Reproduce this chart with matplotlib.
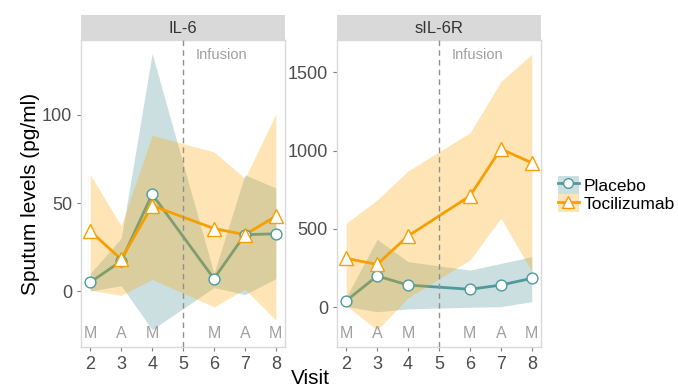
"""Sputum IL-6 / sIL-6R levels by visit, placebo vs tocilizumab."""

import matplotlib

matplotlib.use("Agg")
import matplotlib.pyplot as plt
from matplotlib.lines import Line2D
from matplotlib.patches import Patch

plt.rcParams["font.family"] = ["Liberation Sans", "DejaVu Sans"]

visits = [2, 3, 4, 6, 7, 8]
visit_ticks = [2, 3, 4, 5, 6, 7, 8]
time_labels = ["M", "A", "M", "M", "A", "M"]
panels = ["IL-6", "sIL-6R"]

# IL-6
il6_placebo = [5, 17, 55, 7, 32, 32.5]
il6_placebo_lo = [0, 3, -22, 2, -2, 7]
il6_placebo_hi = [10, 30, 135, 10, 66, 58.5]
il6_toci = [34, 18, 48.5, 35.5, 32, 42.5]
il6_toci_lo = [0.5, -2.5, 6.6, -9, 1, -16.5]
il6_toci_hi = [66, 37, 88.5, 79, 64, 100.5]

# sIL-6R
sr_placebo = [42, 200, 142, 115, 142, 185]
sr_placebo_lo = [5, -28, -10, 0, 4, 36]
sr_placebo_hi = [65, 434, 291, 238, 280, 323]
sr_toci = [312, 274, 455, 710, 1010, 922]
sr_toci_lo = [10, -145, 60, 302, 568, 230]
sr_toci_hi = [536, 685, 870, 1113, 1439, 1615]

PLACEBO = "#4e9a9b"
PLACEBO_FILL = "#5f9ea0"
PLACEBO_ALPHA = 0.32
TOCI = "#f5a000"
TOCI_FILL = "#ffa500"
TOCI_ALPHA = 0.29
FRAME = "#d9d9d9"
GREY_TEXT = "#a0a0a0"
TICK_TEXT = "#4d4d4d"

series = [
    (il6_placebo, il6_placebo_lo, il6_placebo_hi, il6_toci, il6_toci_lo, il6_toci_hi,
     (-31.8, 142.6), [0, 50, 100], -24, 134),
    (sr_placebo, sr_placebo_lo, sr_placebo_hi, sr_toci, sr_toci_lo, sr_toci_hi,
     (-253, 1705), [0, 500, 1000, 1500], -164, 1609),
]

fig = plt.figure(figsize=(6.78, 3.88), dpi=100)
lefts = [0.1195, 0.497]
width = 0.301
bottom, top = 0.1057, 0.8969
strip_top = 0.9613

for left, name, (p, plo, phi, t, tlo, thi, ylim, yticks, lab_y, inf_y) in zip(lefts, panels, series):
    ax = fig.add_axes([left, bottom, width, top - bottom])
    ax.fill_between(visits, plo, phi, color=PLACEBO_FILL, alpha=PLACEBO_ALPHA, linewidth=0, zorder=1)
    ax.plot(visits, p, color=PLACEBO, linewidth=2, zorder=2)
    ax.fill_between(visits, tlo, thi, color=TOCI_FILL, alpha=TOCI_ALPHA, linewidth=0, zorder=3)
    ax.plot(visits, t, color=TOCI, linewidth=2, zorder=4)
    ax.plot(visits, p, linestyle="none", marker="o", markersize=7.8, markerfacecolor="white",
            markeredgecolor=PLACEBO, markeredgewidth=1, zorder=5)
    ax.plot(visits, t, linestyle="none", marker="^", markersize=10, markerfacecolor="white",
            markeredgecolor=TOCI, markeredgewidth=1, zorder=6)
    ax.axvline(5, color="#909090", linestyle=(0, (4, 3)), linewidth=1, zorder=7)
    ax.text(5.4, inf_y, "Infusion", color=GREY_TEXT, fontsize=10.5, va="center", ha="left")
    for v, lab in zip(visits, time_labels):
        ax.text(v, lab_y, lab, color=GREY_TEXT, fontsize=11.5, ha="center", va="center")

    ax.set_xlim(1.7, 8.3)
    ax.set_ylim(*ylim)
    ax.set_xticks(visit_ticks)
    ax.set_yticks(yticks)
    ax.tick_params(colors="#7f7f7f", labelcolor=TICK_TEXT, labelsize=13, length=3, width=0.8)
    for spine in ax.spines.values():
        spine.set_color(FRAME)
        spine.set_linewidth(1)

    strip = fig.add_axes([left, top, width, strip_top - top])
    strip.set_facecolor(FRAME)
    strip.set_xticks([])
    strip.set_yticks([])
    for spine in strip.spines.values():
        spine.set_visible(False)
    strip.text(0.5, 0.47, name, transform=strip.transAxes, ha="center", va="center",
               fontsize=12, color="#333333")

fig.text(0.045, (bottom + top) / 2, "Sputum levels (pg/ml)", rotation=90, ha="center",
         va="center", fontsize=15)
fig.text(0.458, 0.025, "Visit", ha="center", va="center", fontsize=15)

handles = [
    (Patch(facecolor=PLACEBO_FILL, alpha=PLACEBO_ALPHA, linewidth=0),
     Line2D([], [], color=PLACEBO, linewidth=2, marker="o", markersize=7,
            markerfacecolor="white", markeredgecolor=PLACEBO)),
    (Patch(facecolor=TOCI_FILL, alpha=TOCI_ALPHA, linewidth=0),
     Line2D([], [], color=TOCI, linewidth=2, marker="^", markersize=8.5,
            markerfacecolor="white", markeredgecolor=TOCI)),
]
fig.legend(handles, ["Placebo", "Tocilizumab"], loc="center left", bbox_to_anchor=(0.81, 0.5),
           frameon=False, fontsize=12.5, handlelength=1.2, handleheight=1.2, handletextpad=0.3,
           labelspacing=0.05, borderpad=0)

fig.savefig("out.png", dpi=100)
